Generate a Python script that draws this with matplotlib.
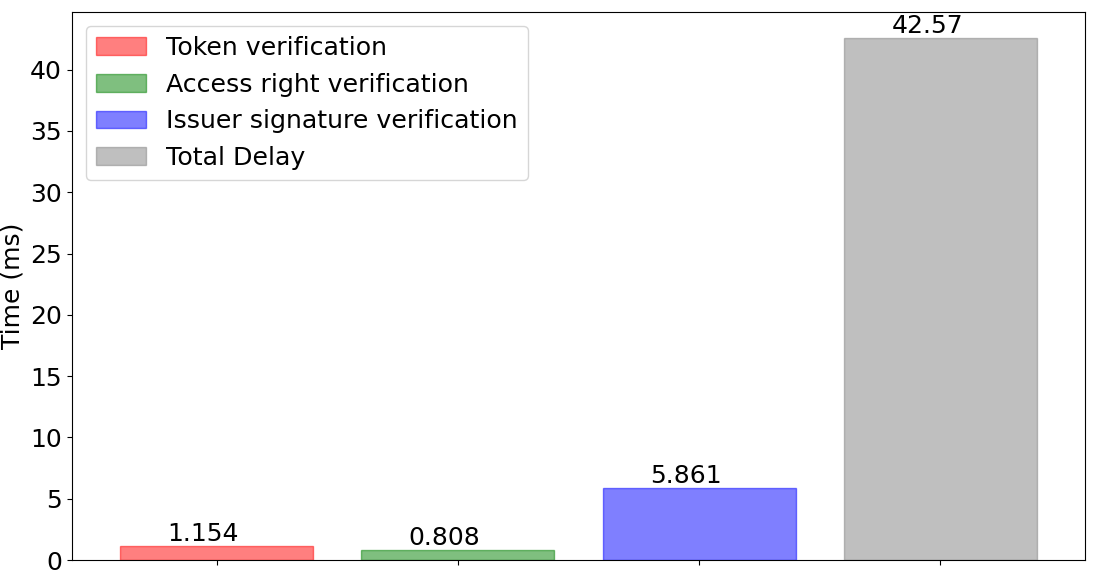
import numpy as np
import matplotlib
matplotlib.use("Agg")
from matplotlib import pyplot as plt

labels = ["Token verification", "Access right verification",
          "Issuer signature verification", "Total Delay"]
times = [1.154, 0.808, 5.861, 42.57]
colors = ["r", "g", "b", "grey"]

plt.rcParams["font.size"] = 18

fig, ax = plt.subplots(figsize=(11.05, 5.75), dpi=100)
x = np.arange(len(times))
for i in range(len(times)):
    ax.bar(x[i], times[i], width=0.8, color=colors[i], alpha=0.5,
           edgecolor=colors[i], linewidth=1, label=labels[i])
    ax.text(x[i] - 0.055, times[i], str(times[i]), ha="center", va="bottom",
            fontsize=18)

ax.set_xticks(x)
ax.set_xticklabels([])
ax.set_ylabel("Time (ms)")
ax.set_yticks(np.arange(0, 45, 5))
ax.set_ylim(0, 44.7)
ax.set_xlim(-0.6, 3.6)
ax.legend(loc="upper left", fontsize=18.15, borderaxespad=0.55)

fig.subplots_adjust(left=0.065, right=0.982, top=0.979, bottom=0.026)
fig.savefig("out.png", dpi=100)
